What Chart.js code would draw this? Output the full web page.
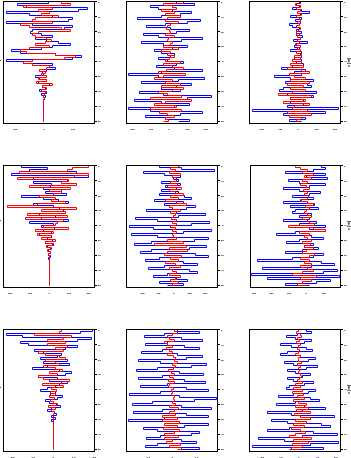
<!DOCTYPE html>
<html>
<head>
<meta charset="utf-8">
<script src="https://cdn.jsdelivr.net/npm/chart.js@4.4.1/dist/chart.umd.min.js"></script>
<style>
html, body { margin:0; padding:0; background:#fff; width:351px; height:458px; overflow:hidden; position:relative; }
canvas { position:absolute; }
.ylab { position:absolute; font:bold 6px "Liberation Sans", Arial, sans-serif; line-height:5px; color:#000;
        white-space:nowrap; transform:rotate(-90deg); transform-origin:left top; }
.rlab { position:absolute; font:bold 4px "Liberation Sans", Arial, sans-serif; line-height:4px; color:#000;
        white-space:nowrap; transform:rotate(-90deg); transform-origin:left top; }
</style>
</head>
<body>
<script>
// depth levels run from the top of each panel (0) to the bottom (60)
var depthTicks = [0, 7.5, 15, 22.5, 30, 37.5, 45, 52.5, 60];
var depthLabels = ['0','10','20','30','40','50','60','70','80'];

var xTicksA = [-100, 0, 100];
var xTicksB = [-200, -100, 0, 100, 200];
var xTicksC = [-200, -100, 0, 100, 200];
var xTicksD = [-200, -100, 0, 100, 200];
var xTicksE = [-200, -100, 0, 100, 200];
var xTicksF = [-300, -200, -100, 0, 100];
var xTicksG = [-2, -1, 0, 1, 2];
var xTicksH = [-1, 0, 1];
var xTicksI = [-2, -1, 0, 1, 2];

var blueA = [15,-90,-60,150,120,-130,-50,30,100,85,-130,-40,100,70,-40,-45,-10,30,-30,10,50,90,30,-10,-110,-80,40,130,100,-130,-70,30,20,40,10,-5,0,-30,-15,10,-20,20,-5,5,-15,10,-10,5,3,-2,0,0,0,0,0,0,0,0,0,0,0];
var redA  = [60,90,-70,30,-20,20,-10,50,-30,-40,30,-80,-50,60,90,-20,-40,-30,10,25,5,-30,20,-50,-80,-60,40,110,70,-40,-70,-40,20,10,-15,5,-10,10,-20,10,-25,30,-5,10,-10,5,3,-3,2,0,0,0,0,0,0,0,0,0,0,0,0];

var blueB = [40,140,-100,-60,20,120,60,-40,-170,170,100,-20,-120,10,110,40,-140,-60,180,70,-150,-30,100,20,-80,-40,30,10,-60,-10,80,40,-70,30,180,-40,-220,-60,190,50,-150,120,40,-40,60,-160,-30,230,100,-190,-40,110,30,-220,-100,180,60,-130,-20,110,50];
var redB  = [80,-30,20,40,-40,30,-20,60,-10,-20,50,10,-10,-15,5,10,-20,30,-5,-10,20,10,-30,50,-40,10,-10,30,0,-20,60,-30,20,80,-15,-60,90,-30,-80,20,-20,60,-40,80,20,-60,-10,70,-100,120,-20,-80,40,-100,70,-50,-10,30,-20,-5,-30];

var blueC = [10,-10,5,-30,20,60,10,-40,15,-15,10,-50,-30,5,-10,20,-10,25,10,-25,50,-10,-20,5,-40,15,10,20,-20,15,-10,30,-30,-90,40,-20,20,-130,-40,80,-70,50,70,-80,-100,100,-60,80,-40,30,-40,30,-60,220,-250,150,-80,-50,40,-50,20];
var redC  = [5,-15,10,-10,10,-5,15,-10,5,10,-5,5,-10,10,0,-10,5,-5,10,-5,5,-15,10,-5,10,-10,15,-20,10,-30,20,-40,30,-60,20,60,-50,-20,40,-40,60,-60,30,-40,40,-30,-110,70,-40,40,-80,60,-20,-30,50,-60,70,-50,20,-10,5];

var blueD = [-140,-10,-100,140,-190,200,-80,90,-80,10,5,-30,60,-20,85,-140,-30,45,100,-80,20,50,70,80,-50,30,-40,100,-100,20,-40,25,-30,10,-50,10,-10,15,-20,20,-10,5,-5,8,-5,5,-3,0,0,0,0,0,0,0,0,0,0,0,0,0,0];
var redD  = [200,120,90,-150,200,130,-160,100,60,140,-100,110,0,60,20,-50,30,10,80,-60,-210,140,-40,80,-110,90,-120,70,40,30,-30,95,-70,20,-60,10,-40,30,-20,15,-15,10,-10,8,-5,3,0,0,0,0,0,0,0,0,0,0,0,0,0,0,0];

var blueE = [-90,50,260,-190,-60,40,0,30,-80,40,-50,20,-80,30,-90,70,110,-120,60,-60,140,80,-170,20,200,30,-240,-100,230,110,-280,-130,240,60,-270,-100,220,130,-140,-250,210,100,-140,-210,140,220,-90,-180,60,150,-60,-160,100,150,-40,-130,20,90,-90,60,-40];
var redE  = [30,-20,10,-30,40,-10,20,15,-20,25,-40,50,-30,10,60,-20,30,-50,20,80,-30,-10,40,-20,10,0,-15,20,-10,15,-20,10,-5,20,-10,0,20,-40,60,-120,80,-30,90,-40,-60,50,-20,30,-50,10,40,-30,-10,20,-30,40,10,-20,30,-10,5];

var blueF = [90,110,40,-120,110,0,120,-100,-40,110,20,-130,-40,80,20,-80,40,-30,-130,50,-90,70,-60,-80,30,-40,20,-130,60,-40,110,20,110,-60,-170,30,100,-40,-110,40,-10,70,-20,-120,100,40,-80,-280,90,160,30,-250,180,100,-310,190,-220,140,60,-120,20];
var redF  = [-60,-30,10,-20,40,-10,30,-20,10,-30,0,20,-15,10,-10,15,5,-25,10,40,-5,20,0,-10,10,30,-20,10,20,50,-100,40,110,-40,20,-10,10,30,-20,25,-10,40,0,-20,50,20,-30,20,-10,30,-30,10,40,-20,-80,60,-30,30,-20,-50,10];

var blueG = [1.9,1.3,-2.3,-1.5,1.85,1.2,-1.6,-1.2,1.2,0.6,-0.9,-0.5,0.4,0.2,-0.6,0.7,-0.5,0.8,-0.3,-1.0,0.3,0.9,0.6,-0.7,0.2,-0.2,0.7,0.3,0.1,-0.3,-0.6,0.1,-0.15,0.45,0.2,-0.4,-0.2,0.15,0.35,-0.1,-0.3,0.05,0.15,-0.1,0.12,-0.08,0.03,0,0,0,0,0,0,0,0,0,0,0,0,0,0];
var redG  = [0.4,0.3,-0.9,0.9,0.5,-0.3,0.6,-0.3,0.7,0.1,0.5,-0.7,-0.4,0.3,0.6,-0.4,0.1,0.3,-0.5,0.1,0.45,-0.2,0.2,-0.7,-0.5,0.8,0.4,-0.55,0.5,-0.1,0.15,-0.15,0.1,-0.2,0.05,-0.15,0,0.2,-0.25,0.1,-0.1,0.05,0,0,0,0,0,0,0,0,0,0,0,0,0,0,0,0,0,0,0];

var blueH = [0.2,1.1,-0.3,-1.15,0.4,1.25,-0.2,-1.1,0.5,1.1,-0.4,-1.25,0.2,1.25,0.6,-1.4,-0.5,1.4,0.8,-0.6,-1.45,0.3,1.3,-0.4,-1.4,0.5,1.35,-0.2,-1.3,0.6,1.5,-0.5,-1.75,0.3,1.8,0.9,-0.8,-1.65,0.4,1.6,-0.4,-1.6,0.6,1.5,-0.3,-1.8,0.3,1.5,0.5,-1.2,-0.6,1.1,0.8,-0.5,-1.05,0.4,1.0,-0.6,-1.1,1.1,0.3];
var redH  = [0.1,0.2,0.0,-0.2,-0.1,0.1,-0.3,-0.2,0.0,-0.25,-0.1,0.0,-0.2,0.05,0.15,0.1,0.2,0.0,0.15,0.05,-0.15,-0.05,0.1,-0.1,0.05,-0.15,0.1,-0.1,-0.15,0.05,-0.05,0.0,-0.05,0.1,0.05,0.1,0.0,0.15,-0.1,0.25,0.1,-0.1,0.15,-0.4,0.2,-0.4,0.3,-0.3,0.2,-0.35,0.3,0.1,-0.3,0.25,-0.3,0.0,-0.25,0.35,-0.1,0.4,0.2];

var blueI = [0.4,0.65,-0.1,-0.7,-0.2,0.7,0.3,-1.0,-0.4,0.4,0.75,-0.6,-1.0,0.1,0.9,0.5,-0.8,-0.3,1.0,0.4,-0.6,-0.2,0.6,0.2,-0.6,-0.3,0.8,0.3,-0.5,-0.7,0.9,0.5,-0.3,-1.1,0.6,1.1,-0.2,-1.2,0.3,1.45,0.2,-1.7,-0.4,1.9,0.6,-1.5,-0.6,1.2,1.7,-0.5,-1.7,0.8,2.1,0.2,-2.2,-0.8,2.15,0.6,-2.5,1.3,-0.5];
var redI  = [0.0,-0.15,0.1,0.15,-0.1,0.05,-0.15,0.1,0.0,-0.1,0.05,-0.05,-0.2,0.1,-0.05,0.0,0.15,-0.1,0.1,-0.05,0.05,0.0,0.1,0.15,0.05,-0.1,0.2,-0.2,0.1,-0.3,0.2,-0.35,0.25,-0.1,0.3,-0.3,0.0,0.4,-0.2,0.5,-0.15,0.6,-0.25,0.1,0.6,-0.2,0.4,-0.3,0.3,-0.4,0.1,0.35,-0.2,-0.5,0.7,-0.3,0.5,-0.35,0.2,-0.4,0.1];

var panels = [
  { left:3,   top:0,   min:-141, max:176, xt:xTicksA, blue:blueA, red:redA },
  { left:126, top:0,   min:-234, max:266, xt:xTicksB, blue:blueB, red:redB },
  { left:249, top:0,   min:-268, max:232, xt:xTicksC, blue:blueC, red:redC },
  { left:3,   top:164, min:-235, max:232, xt:xTicksD, blue:blueD, red:redD },
  { left:126, top:164, min:-303, max:281, xt:xTicksE, blue:blueE, red:redE },
  { left:249, top:164, min:-319, max:199, xt:xTicksF, blue:blueF, red:redF },
  { left:3,   top:328, min:-2.45, max:2.03, xt:xTicksG, blue:blueG, red:redG },
  { left:126, top:328, min:-1.9, max:1.88, xt:xTicksH, blue:blueH, red:redH },
  { left:249, top:328, min:-2.7, max:2.27, xt:xTicksI, blue:blueI, red:redI }
];

// box around each plot area
var frame = {
  id: 'frame',
  afterDraw: function(c) {
    var a = c.chartArea, ctx = c.ctx;
    ctx.save();
    ctx.strokeStyle = '#000';
    ctx.lineWidth = 1;
    ctx.strokeRect(Math.round(a.left) + 0.5, Math.round(a.top) + 0.5,
                   Math.round(a.right - a.left) - 1, Math.round(a.bottom - a.top) - 1);
    ctx.restore();
  }
};

// put the scaled points on pixel centres so the 1px steps stay crisp
var snap = {
  id: 'snap',
  beforeDatasetsDraw: function(c) {
    c.data.datasets.forEach(function(ds, i) {
      c.getDatasetMeta(i).data.forEach(function(el) {
        el.x = Math.floor(el.x) + 0.5;
        el.y = Math.floor(el.y) + 0.5;
      });
    });
  }
};

function toPoints(arr) {
  return arr.map(function(v, i) { return { x: v, y: i }; });
}

function tickText(v) {
  if (Math.abs(v) < 10 && v !== 0) return v.toFixed(1);
  return String(v);
}

panels.forEach(function(p) {
  var cv = document.createElement('canvas');
  cv.width = 125; cv.height = 140;
  cv.style.left = (p.left - 3) + 'px';
  cv.style.top = (p.top - 2) + 'px';
  document.body.appendChild(cv);

  new Chart(cv.getContext('2d'), {
    type: 'scatter',
    data: {
      datasets: [
        { data: toPoints(p.red), borderColor: '#ff0000', borderWidth: 1, showLine: true,
          stepped: 'after', pointRadius: 0, fill: false },
        { data: toPoints(p.blue), borderColor: '#0000ff', borderWidth: 1, showLine: true,
          stepped: 'after', pointRadius: 0, fill: false }
      ]
    },
    options: {
      responsive: false,
      animation: false,
      devicePixelRatio: 1,
      layout: { padding: { left: 3, top: 2, right: 0, bottom: 0 } },
      plugins: { legend: { display: false }, tooltip: { enabled: false } },
      scales: {
        x: {
          type: 'linear', position: 'bottom', min: p.min, max: p.max,
          grid: { display: false, drawTicks: false }, border: { display: false },
          afterBuildTicks: function(s) { s.ticks = p.xt.map(function(v) { return { value: v }; }); },
          afterFit: function(s) { s.height = 15; },
          ticks: { color: '#000', font: { size: 2.5, weight: 'bold', family: 'Liberation Sans' },
                   padding: 5, maxRotation: 0, autoSkip: false,
                   callback: function(v) { return tickText(v); } }
        },
        y: {
          type: 'linear', position: 'right', reverse: true, min: -0.75, max: 60.75,
          grid: { display: true, drawOnChartArea: false, drawTicks: true, tickLength: 2,
                  color: '#000', lineWidth: 1 },
          border: { display: false },
          afterBuildTicks: function(s) { s.ticks = depthTicks.map(function(v) { return { value: v }; }); },
          afterFit: function(s) { s.width = 30; },
          ticks: { color: '#000', font: { size: 2.5, weight: 'bold', family: 'Liberation Sans' },
                   padding: 1, autoSkip: false,
                   callback: function(v, i) { return depthLabels[i]; } }
        }
      }
    },
    plugins: [snap, frame]
  });
});

// axis titles clipped by the page edges
[[69, 'Depth'], [229, 'Depth'], [396, 'Depth']].forEach(function(t) {
  var d = document.createElement('div');
  d.className = 'ylab';
  d.style.left = '-4px';
  d.style.top = t[0] + 'px';
  d.textContent = t[1];
  document.body.appendChild(d);
});
[[67, 'z [m]'], [230, 'z [m]'], [394, 'z [m]']].forEach(function(t) {
  var d = document.createElement('div');
  d.className = 'rlab';
  d.style.left = '347px';
  d.style.top = t[0] + 'px';
  d.textContent = t[1];
  document.body.appendChild(d);
});
</script>
</body>
</html>
